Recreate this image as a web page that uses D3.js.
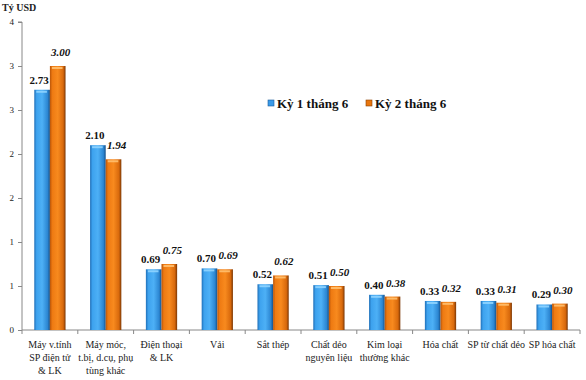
<!DOCTYPE html>
<html>
<head>
<meta charset="utf-8">
<script src="https://cdn.jsdelivr.net/npm/d3@7"></script>
<style>
  body { margin: 0; background: #fff; }
  svg { display: block; font-family: "Liberation Serif", "Times New Roman", serif; }
</style>
</head>
<body>
<svg id="chart" width="586" height="380"></svg>
<script>
// Import value by category, two periods of June (billion USD)
const categories = [
  ["Máy v.tính", "SP điện tử", "& LK"],
  ["Máy móc,", "t.bị, d.cụ, phụ", "tùng khác"],
  ["Điện thoại", "& LK"],
  ["Vải"],
  ["Sắt thép"],
  ["Chất dẻo", "nguyên liệu"],
  ["Kim loại", "thường khác"],
  ["Hóa chất"],
  ["SP từ chất dẻo"],
  ["SP hóa chất"]
];
const period1 = [2.73, 2.10, 0.69, 0.70, 0.52, 0.51, 0.40, 0.33, 0.33, 0.29];
const period2 = [3.00, 1.94, 0.75, 0.69, 0.62, 0.50, 0.38, 0.32, 0.31, 0.30];
const seriesNames = ["Kỳ 1 tháng 6", "Kỳ 2 tháng 6"];
const yTicks = [0, 0.5, 1, 1.5, 2, 2.5, 3, 3.5];
const yTickLabels = ["0", "1", "1", "2", "2", "3", "3", "4"];

(function () {
  "use strict";

  const svg = d3.select("#chart");
  const margin = { left: 22, right: 6, top: 22, bottom: 50 };
  const W = 586, H = 380;

  const x = d3.scaleBand()
    .domain(d3.range(categories.length))
    .range([margin.left, W - margin.right])
    .paddingInner(0.44).paddingOuter(0.22);
  const xs = d3.scaleBand().domain([0, 1]).range([0, x.bandwidth()]);
  const y = d3.scaleLinear().domain([0, 3.5]).range([H - margin.bottom, margin.top]);

  // --- gradients for the bevelled bars ---
  const defs = svg.append("defs");
  const palettes = [
    { id: "g0", stops: ["#1f6fb8", "#3da2ee", "#4db0f6", "#2c86d2", "#14508a"] },
    { id: "g1", stops: ["#b85408", "#ee7a12", "#f88a1e", "#d8690c", "#7a3604"] }
  ];
  palettes.forEach(p => {
    const lg = defs.append("linearGradient").attr("id", p.id)
      .attr("x1", 0).attr("x2", 1).attr("y1", 0).attr("y2", 0);
    [0, 0.15, 0.5, 0.85, 1].forEach((o, i) =>
      lg.append("stop").attr("offset", o).attr("stop-color", p.stops[i]));
  });
  const capColors = ["#8fd4ff", "#ffc070"];

  // --- y axis ---
  const yAxis = svg.append("g")
    .attr("transform", `translate(${margin.left},0)`)
    .call(d3.axisLeft(y).tickValues(yTicks).tickSize(4).tickPadding(4)
      .tickFormat((d, i) => yTickLabels[i]));
  yAxis.select(".domain").attr("stroke", "#888").attr("d", `M-4,${y(3.5)}H0V${y(0)}`);
  yAxis.selectAll(".tick line").attr("stroke", "#888");
  yAxis.selectAll(".tick text").attr("font-size", 9).attr("fill", "#222")
    .attr("font-family", "Liberation Serif, serif");

  // --- x axis line and category separators ---
  const x0 = margin.left, x1 = W - margin.right;
  svg.append("line").attr("x1", x0).attr("x2", x1)
    .attr("y1", y(0)).attr("y2", y(0)).attr("stroke", "#888");
  d3.range(categories.length + 1).forEach(i => {
    const xx = x0 + i * (x1 - x0) / categories.length;
    svg.append("line").attr("x1", xx).attr("x2", xx)
      .attr("y1", y(0)).attr("y2", y(0) + 4).attr("stroke", "#888");
  });

  // --- bars ---
  const series = [period1, period2];
  const labelLift = [6, 10];
  const labelShift = [-3, 3];
  series.forEach((vals, s) => {
    const g = svg.append("g");
    vals.forEach((v, i) => {
      const bx = x(i) + xs(s);
      const bw = xs.bandwidth();
      g.append("rect")
        .attr("x", bx).attr("y", y(v))
        .attr("width", bw).attr("height", y(0) - y(v))
        .attr("fill", `url(#g${s})`);
      g.append("rect")
        .attr("x", bx + 2).attr("y", y(v) + 1)
        .attr("width", bw - 5).attr("height", 2)
        .attr("fill", capColors[s]).attr("opacity", 0.9);
    });
    // value labels
    svg.append("g").selectAll("text").data(vals).join("text")
      .attr("x", (d, i) => x(i) + xs(s) + xs.bandwidth() / 2 + labelShift[s])
      .attr("y", d => y(d) - labelLift[s])
      .attr("text-anchor", "middle")
      .attr("font-size", 11).attr("font-weight", "bold")
      .attr("font-style", s === 1 ? "italic" : "normal")
      .attr("fill", "#111")
      .text(d => d.toFixed(2));
  });

  // --- category labels ---
  const lab = svg.append("g");
  categories.forEach((lines, i) => {
    const t = lab.append("text")
      .attr("x", x(i) + x.bandwidth() / 2).attr("y", y(0) + 18)
      .attr("text-anchor", "middle").attr("font-size", 10).attr("fill", "#222");
    lines.forEach((ln, j) => {
      t.append("tspan").attr("x", x(i) + x.bandwidth() / 2)
        .attr("dy", j === 0 ? 0 : 13).text(ln);
    });
  });

  // --- legend ---
  const legendX = [268, 366];
  const legendColors = ["#3a9be8", "#e8760e"];
  seriesNames.forEach((name, s) => {
    svg.append("rect").attr("x", legendX[s]).attr("y", 100)
      .attr("width", 6).attr("height", 6).attr("fill", legendColors[s])
      .attr("stroke", s === 0 ? "#1a5a9a" : "#8a4000").attr("stroke-width", 0.6);
    svg.append("text").attr("x", legendX[s] + 9).attr("y", 108)
      .attr("font-size", 13).attr("font-weight", "bold").attr("fill", "#111")
      .text(name);
  });

  // --- y title ---
  svg.append("text").attr("x", 2).attr("y", 11)
    .attr("font-size", 10).attr("font-weight", "bold").attr("fill", "#222")
    .text("Tỷ USD");
})();
</script>
</body>
</html>
